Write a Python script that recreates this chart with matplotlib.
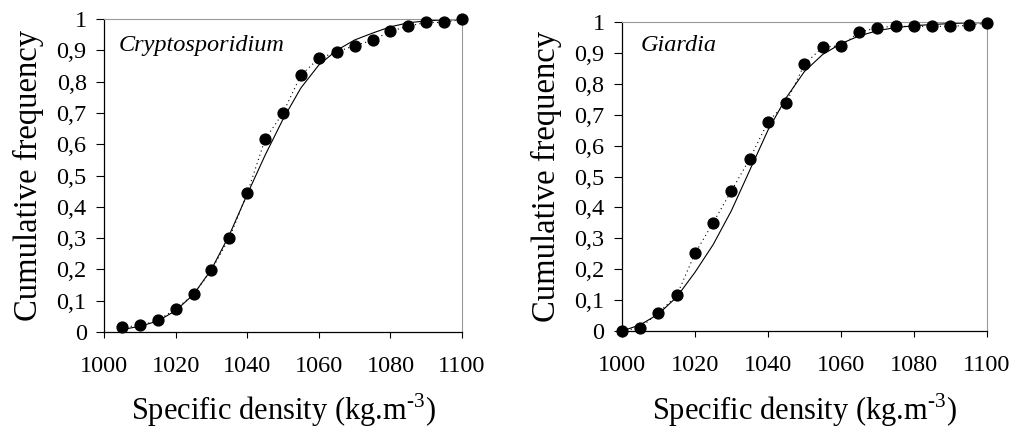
import matplotlib
matplotlib.use("Agg")
import matplotlib.pyplot as plt
from matplotlib.ticker import FuncFormatter

# ---- data ----
crypto_x = [1005, 1010, 1015, 1020, 1025, 1030, 1035, 1040, 1045, 1050,
            1055, 1060, 1065, 1070, 1075, 1080, 1085, 1090, 1095, 1100]
crypto_obs = [0.015, 0.021, 0.037, 0.073, 0.12, 0.198, 0.30, 0.443, 0.616, 0.70,
              0.821, 0.874, 0.895, 0.915, 0.932, 0.961, 0.977, 0.989, 0.989, 1.0]
crypto_fit_x = [1005, 1010, 1015, 1020, 1025, 1030, 1035, 1040, 1045, 1050,
                1055, 1060, 1065, 1070, 1075, 1080, 1085, 1090, 1095, 1100]
crypto_fit = [0.008, 0.018, 0.035, 0.068, 0.12, 0.20, 0.31, 0.44, 0.565, 0.68,
              0.78, 0.853, 0.90, 0.933, 0.955, 0.975, 0.988, 0.994, 0.997, 0.998]

giardia_x = [1000, 1005, 1010, 1015, 1020, 1025, 1030, 1035, 1040, 1045, 1050,
             1055, 1060, 1065, 1070, 1075, 1080, 1085, 1090, 1095, 1100]
giardia_obs = [0.0, 0.011, 0.059, 0.115, 0.251, 0.351, 0.454, 0.557, 0.677, 0.739, 0.863,
               0.919, 0.923, 0.967, 0.982, 0.986, 0.986, 0.986, 0.986, 0.989, 0.997]
giardia_fit_x = [1000, 1005, 1010, 1015, 1020, 1025, 1030, 1035, 1040, 1045, 1050,
                 1055, 1060, 1065, 1070, 1075, 1080, 1085, 1090, 1095, 1100]
giardia_fit = [0.0, 0.02, 0.055, 0.11, 0.19, 0.28, 0.39, 0.52, 0.65, 0.755, 0.84,
               0.895, 0.93, 0.955, 0.972, 0.982, 0.988, 0.992, 0.995, 0.997, 0.998]

x_ticks = [1000, 1020, 1040, 1060, 1080, 1100]
y_ticks = [0, 0.1, 0.2, 0.3, 0.4, 0.5, 0.6, 0.7, 0.8, 0.9, 1.0]

plt.rcParams['font.family'] = ['Liberation Serif', 'DejaVu Serif']
plt.rcParams['mathtext.fontset'] = 'custom'
plt.rcParams['mathtext.rm'] = 'Liberation Serif'

fig = plt.figure(figsize=(10.13, 4.29), dpi=100)
ax1 = fig.add_axes([0.1027, 0.2261, 0.3534, 0.7296])
ax2 = fig.add_axes([0.614, 0.2284, 0.3603, 0.7203])

def yfmt(v, pos):
    if abs(v) < 1e-9:
        return "0"
    if abs(v - 1) < 1e-9:
        return "1"
    return ("%.1f" % v).replace(".", ",")

panels = [
    (ax1, crypto_x, crypto_obs, crypto_fit_x, crypto_fit, "Cryptosporidium", 0.042, 0.914),
    (ax2, giardia_x, giardia_obs, giardia_fit_x, giardia_fit, "Giardia", 0.052, 0.925),
]

for ax, xs, obs, fx, fy, name, tx, ty in panels:
    ax.plot(fx, fy, color='black', lw=0.8, zorder=2)
    ax.plot(xs, obs, color='black', lw=0.8, ls=(0, (1, 3)), zorder=2)
    ax.plot(xs, obs, ls='none', marker='o', ms=7.8, color='black', zorder=3, clip_on=False)
    ax.set_xlim(1000, 1100)
    ax.set_ylim(0, 1)
    ax.set_xticks(x_ticks)
    ax.set_yticks(y_ticks)
    ax.yaxis.set_major_formatter(FuncFormatter(yfmt))
    ax.tick_params(axis='x', direction='out', length=4, width=0.8, pad=13, labelsize=17.5)
    ax.tick_params(axis='y', direction='out', length=6, width=0.8, pad=6.5, labelsize=17.5)
    for s in ['top', 'right']:
        ax.spines[s].set_color('#999999')
        ax.spines[s].set_linewidth(0.8)
    for s in ['left', 'bottom']:
        ax.spines[s].set_color('black')
        ax.spines[s].set_linewidth(0.9)
    ax.set_xlabel(r"Specific density (kg.m$^{\text{-3}}$)", fontsize=22, labelpad=11)
    ax.set_ylabel("Cumulative frequency", fontsize=23.5, labelpad=9)
    ax.text(tx, ty, name, transform=ax.transAxes, fontsize=17.5, style='italic',
            ha='left', va='center')

fig.savefig("out.png", dpi=100)
